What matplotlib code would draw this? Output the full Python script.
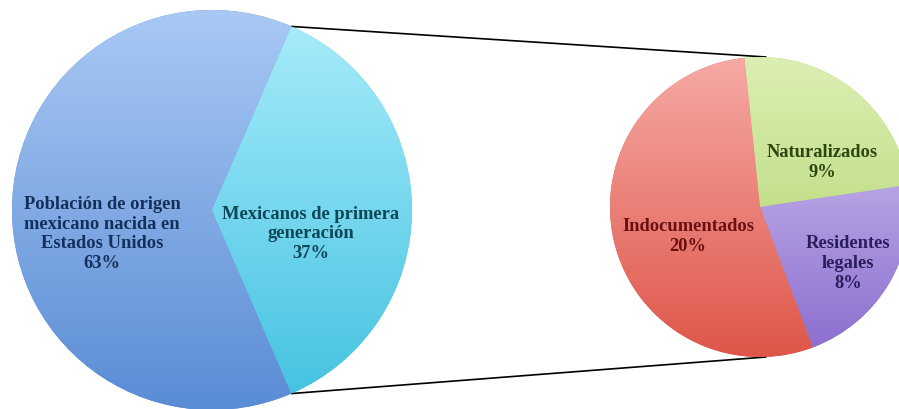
import numpy as np
import matplotlib
matplotlib.use("Agg")
import matplotlib.pyplot as plt
from matplotlib.colors import LinearSegmentedColormap

# Población mexicana en EE.UU. (pie of pie)
outer_labels = ["Población de origen\nmexicano nacida en\nEstados Unidos",
                "Mexicanos de primera\ngeneración"]
outer_values = [63, 37]
inner_labels = ["Naturalizados", "Residentes\nlegales", "Indocumentados"]
inner_values = [9, 8, 20]

# (top, bottom) colours of each slice gradient
outer_grad = [("#a9c9f4", "#5a8cd5"), ("#aaedfb", "#42c1e1")]
inner_grad = [("#dcefb4", "#aad063"), ("#d8ccf3", "#8a6ccf"), ("#f6aaa4", "#de564a")]
outer_text = ["#13305a", "#0d4656"]
inner_text = ["#2c4710", "#2b1d5c", "#6a1010"]

W, H = 899, 409
fig = plt.figure(figsize=(W / 100, H / 100), dpi=100)
ax = fig.add_axes([0, 0, 1, 1])


def gradient_pie(values, center, radius, startangle, counterclock, grads):
    wedges, _ = ax.pie(values, center=center, radius=radius,
                       startangle=startangle, counterclock=counterclock,
                       colors=[g[1] for g in grads],
                       wedgeprops=dict(linewidth=0))
    cx, cy = center
    t = np.linspace(0, 1, 256).reshape(-1, 1)
    for w, (top, bottom) in zip(wedges, grads):
        cmap = LinearSegmentedColormap.from_list("g", [bottom, top])
        im = ax.imshow(t, cmap=cmap, origin="lower", aspect="auto",
                       extent=[cx - radius, cx + radius, cy - radius, cy + radius],
                       zorder=2, interpolation="bilinear")
        im.set_clip_path(w)
    return wedges


left_c, left_r = (212, 199), 200
right_c, right_r = (760, 202), 150

start = 360 * outer_values[1] / sum(outer_values) / 2
gradient_pie(outer_values, left_c, left_r, start, True, outer_grad)
gradient_pie(inner_values, right_c, right_r, 96, False, inner_grad)

# connector lines from the split slice to the second pie
a = np.deg2rad(start)
for s in (1, -1):
    x0 = left_c[0] + left_r * np.cos(a)
    y0 = left_c[1] + s * left_r * np.sin(a)
    ax.plot([x0, right_c[0] + 6], [y0, right_c[1] + s * right_r],
            color="black", lw=1.2, zorder=1, solid_capstyle="round")

font = dict(family="Liberation Serif", weight="bold", fontsize=13.3,
            ha="center", va="center", linespacing=1.2, zorder=5)

outer_pos = [(102, 175), (311, 175)]
for lab, v, pos, c in zip(outer_labels, outer_values, outer_pos, outer_text):
    ax.text(*pos, f"{lab}\n{v}%", color=c, **font)

inner_pos = [(822, 246.5), (848, 145.5), (688, 172.5)]
for lab, v, pos, c in zip(inner_labels, inner_values, inner_pos, inner_text):
    ax.text(*pos, f"{lab}\n{v}%", color=c, **font)

ax.set_xlim(0, W)
ax.set_ylim(0, H)
ax.set_aspect("equal")
ax.axis("off")
fig.savefig("out.png", dpi=100, facecolor="white")
